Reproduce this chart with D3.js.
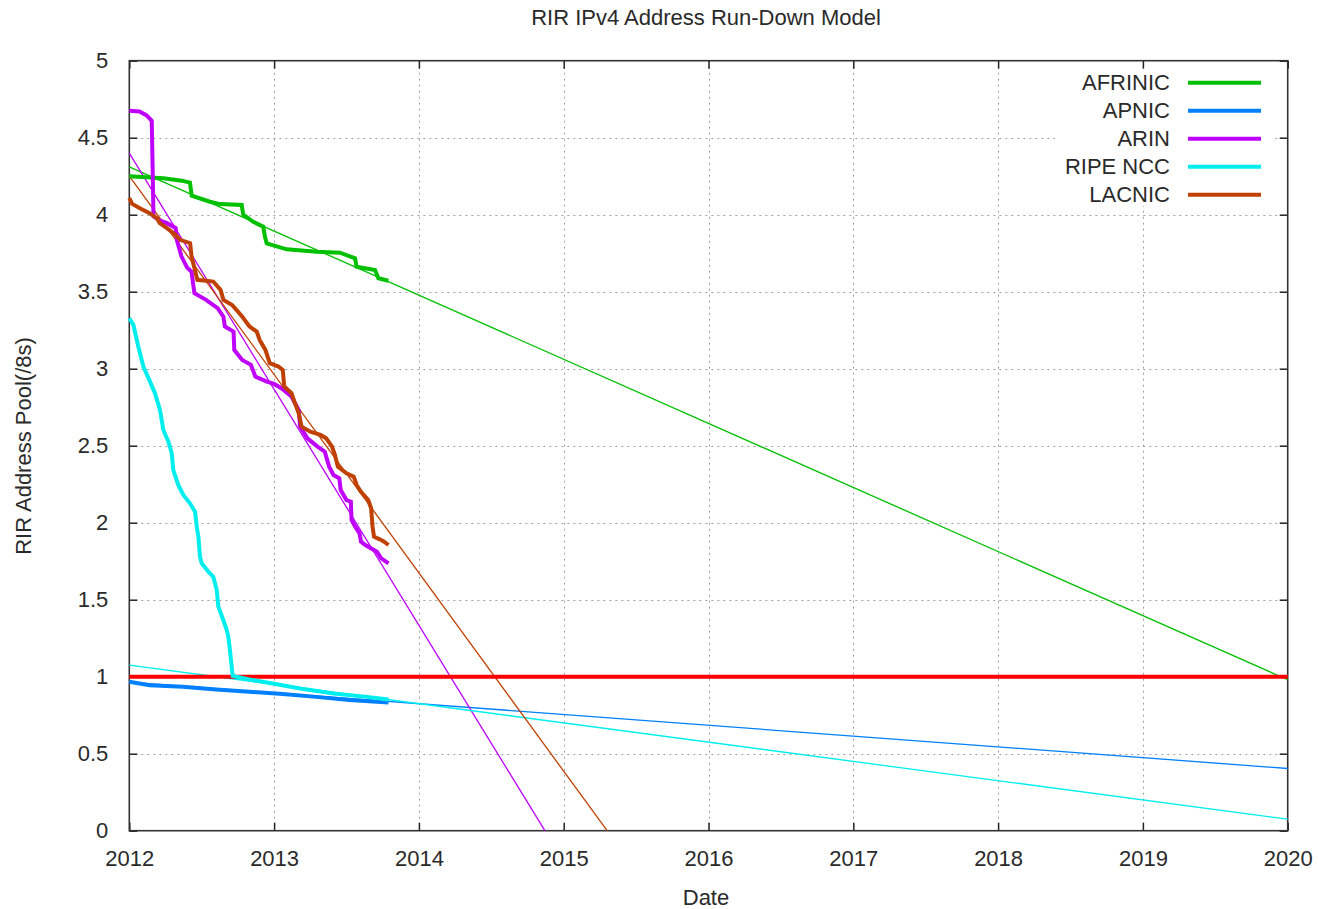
<!DOCTYPE html>
<html>
<head>
<meta charset="utf-8">
<script src="https://cdn.jsdelivr.net/npm/d3@7"></script>
<style>
  html, body { margin: 0; padding: 0; background: #fff; }
  svg { display: block; }
  text { font-family: "Liberation Sans", Arial, sans-serif; fill: #2a2a2a; }
</style>
</head>
<body>
<svg id="chart" width="1318" height="909"></svg>
<script>
// ---- Data (decimal years, pool size in /8s) ----
const seriesNames = ["AFRINIC", "APNIC", "ARIN", "RIPE NCC", "LACNIC"];
const seriesColors = ["#00c000", "#0080ff", "#c000ff", "#00eeee", "#c04000"];

const afrinic = [[2012.00,4.25],[2012.235,4.236],[2012.362,4.221],[2012.419,4.208],[2012.431,4.123],[2012.557,4.084],[2012.626,4.069],[2012.776,4.063],[2012.787,4.0],[2012.856,3.954],[2012.925,3.922],[2012.937,3.857],[2012.949,3.814],[2013.087,3.775],[2013.294,3.760],[2013.455,3.753],[2013.559,3.717],[2013.570,3.662],[2013.697,3.641],[2013.720,3.587],[2013.789,3.571]];

const apnic = [[2012.00,0.967],[2012.14,0.945],[2012.37,0.934],[2012.60,0.917],[2012.83,0.902],[2013.06,0.887],[2013.29,0.869],[2013.52,0.848],[2013.79,0.833]];

const arin = [[2012.00,4.675],[2012.07,4.67],[2012.12,4.645],[2012.155,4.61],[2012.16,4.36],[2012.167,3.99],[2012.20,3.967],[2012.26,3.945],[2012.32,3.913],[2012.33,3.83],[2012.36,3.73],[2012.40,3.655],[2012.43,3.63],[2012.44,3.556],[2012.45,3.49],[2012.53,3.447],[2012.61,3.393],[2012.65,3.338],[2012.66,3.274],[2012.72,3.241],[2012.725,3.122],[2012.78,3.057],[2012.84,3.025],[2012.87,2.949],[2012.95,2.916],[2013.00,2.901],[2013.05,2.873],[2013.12,2.819],[2013.17,2.732],[2013.18,2.624],[2013.23,2.548],[2013.30,2.494],[2013.35,2.461],[2013.38,2.364],[2013.41,2.310],[2013.45,2.288],[2013.46,2.212],[2013.50,2.147],[2013.53,2.136],[2013.535,2.018],[2013.56,1.974],[2013.59,1.931],[2013.60,1.877],[2013.63,1.855],[2013.71,1.812],[2013.74,1.769],[2013.79,1.736]];

const ripe = [[2012.00,3.328],[2012.028,3.285],[2012.062,3.144],[2012.097,3.014],[2012.143,2.916],[2012.177,2.841],[2012.212,2.732],[2012.235,2.602],[2012.27,2.526],[2012.293,2.451],[2012.304,2.342],[2012.338,2.245],[2012.373,2.18],[2012.419,2.126],[2012.454,2.071],[2012.466,1.974],[2012.477,1.909],[2012.488,1.779],[2012.50,1.736],[2012.546,1.682],[2012.58,1.649],[2012.604,1.563],[2012.615,1.454],[2012.649,1.368],[2012.673,1.303],[2012.684,1.259],[2012.695,1.173],[2012.707,1.064],[2012.714,1.005],[2012.83,0.982],[2012.99,0.956],[2013.18,0.924],[2013.41,0.891],[2013.64,0.869],[2013.79,0.852]];

const lacnic = [[2012.00,4.108],[2012.02,4.07],[2012.07,4.043],[2012.14,4.01],[2012.19,3.978],[2012.21,3.945],[2012.26,3.913],[2012.32,3.869],[2012.35,3.837],[2012.42,3.815],[2012.43,3.728],[2012.45,3.653],[2012.47,3.577],[2012.58,3.566],[2012.63,3.512],[2012.65,3.447],[2012.71,3.414],[2012.74,3.382],[2012.78,3.338],[2012.83,3.274],[2012.88,3.241],[2012.90,3.187],[2012.94,3.122],[2012.97,3.036],[2013.03,3.014],[2013.06,2.992],[2013.07,2.884],[2013.12,2.841],[2013.14,2.786],[2013.17,2.711],[2013.19,2.624],[2013.25,2.591],[2013.32,2.57],[2013.36,2.548],[2013.40,2.494],[2013.42,2.44],[2013.44,2.364],[2013.50,2.321],[2013.55,2.299],[2013.57,2.245],[2013.60,2.201],[2013.65,2.147],[2013.67,2.094],[2013.68,1.974],[2013.69,1.909],[2013.73,1.892],[2013.76,1.877],[2013.79,1.855]];

// Linear run-down model fits
const afrinicTrend = [[2012,4.31],[2020,0.98]];
const apnicTrend   = [[2012,0.965],[2020,0.404]];
const arinTrend    = [[2012,4.40],[2014.87,0]];
const ripeTrend    = [[2012,1.075],[2020,0.075]];
const lacnicTrend  = [[2012,4.25],[2015.30,0]];

const thresholdLine = [[2012,1],[2020,1]];

const xTicks = [2012,2013,2014,2015,2016,2017,2018,2019,2020];
const yTicks = [0,0.5,1,1.5,2,2.5,3,3.5,4,4.5,5];

const titleText = "RIR IPv4 Address Run-Down Model";
const xLabel = "Date";
const yLabel = "RIR Address Pool(/8s)";

// ---- Layout ----
const svg = d3.select("#chart");
const L = 129.3, R = 1287.7, T = 60.7, B = 830.7;
const x = d3.scaleLinear().domain([2012, 2020]).range([L, R]);
const y = d3.scaleLinear().domain([0, 5]).range([B, T]);
const FS = 22;

// grid
const grid = svg.append("g").attr("stroke", "#a0a0a0").attr("stroke-width", 1).attr("stroke-dasharray", "2,4");
grid.selectAll("line.gx").data(xTicks.slice(1, -1)).join("line")
  .attr("x1", d => Math.round(x(d)) + 0.5).attr("x2", d => Math.round(x(d)) + 0.5)
  .attr("y1", T).attr("y2", B);
grid.selectAll("line.gy").data(yTicks.slice(1, -1)).join("line")
  .attr("y1", d => Math.round(y(d)) + 0.5).attr("y2", d => Math.round(y(d)) + 0.5)
  .attr("x1", L).attr("x2", R);

// legend background (blanks the grid behind the key)
svg.append("rect").attr("x", 1055).attr("y", 64).attr("width", 218).attr("height", 142).attr("fill", "#fff");

// axes with inward ticks on all sides
const tickLen = 8;
const axB = svg.append("g").attr("transform", `translate(0,${B})`)
  .call(d3.axisBottom(x).tickValues(xTicks).tickFormat(d3.format("d")).tickSizeInner(-tickLen).tickSizeOuter(0).tickPadding(20));
const axT = svg.append("g").attr("transform", `translate(0,${T})`)
  .call(d3.axisTop(x).tickValues(xTicks).tickFormat("").tickSizeInner(-tickLen).tickSizeOuter(0));
const axL = svg.append("g").attr("transform", `translate(${L},0)`)
  .call(d3.axisLeft(y).tickValues(yTicks).tickFormat(d3.format("~g")).tickSizeInner(-tickLen).tickSizeOuter(0).tickPadding(21));
const axR = svg.append("g").attr("transform", `translate(${R},0)`)
  .call(d3.axisRight(y).tickValues(yTicks).tickFormat("").tickSizeInner(-tickLen).tickSizeOuter(0));
[axB, axT, axL, axR].forEach(g => {
  g.select(".domain").remove();
  g.selectAll(".tick line").attr("stroke", "#222").attr("stroke-width", 1.5);
  g.selectAll("text").attr("font-size", FS).attr("font-family", "Liberation Sans, Arial, sans-serif").attr("fill", "#2a2a2a");
});
axB.selectAll("text").attr("dy", "0.71em");

// border
svg.append("rect").attr("x", L).attr("y", T).attr("width", R - L).attr("height", B - T)
  .attr("fill", "none").attr("stroke", "#333").attr("stroke-width", 1.6);

const line = d3.line().x(d => x(d[0])).y(d => y(d[1]));

// trend lines (thin)
const trends = [afrinicTrend, apnicTrend, arinTrend, ripeTrend, lacnicTrend];
svg.append("g").selectAll("path").data(trends).join("path")
  .attr("d", line).attr("fill", "none")
  .attr("stroke", (d, i) => seriesColors[i]).attr("stroke-width", 1.3);

// threshold line at 1 /8
svg.append("path").datum(thresholdLine).attr("d", line)
  .attr("fill", "none").attr("stroke", "#ff0000").attr("stroke-width", 4);

// observed data (thick)
const series = [afrinic, apnic, arin, ripe, lacnic];
svg.append("g").selectAll("path").data(series).join("path")
  .attr("d", line).attr("fill", "none")
  .attr("stroke", (d, i) => seriesColors[i]).attr("stroke-width", 4)
  .attr("stroke-linejoin", "miter").attr("stroke-miterlimit", 2);

// legend
const lg = svg.append("g");
seriesNames.forEach((name, i) => {
  const cy = 82.7 + i * 28;
  lg.append("text").attr("x", 1170).attr("y", cy).attr("dy", "0.33em")
    .attr("text-anchor", "end").attr("font-size", FS).text(name);
  lg.append("line").attr("x1", 1188).attr("x2", 1261).attr("y1", cy).attr("y2", cy)
    .attr("stroke", seriesColors[i]).attr("stroke-width", 4);
});

// titles
svg.append("text").attr("x", 706).attr("y", 25).attr("text-anchor", "middle").attr("font-size", FS).text(titleText);
svg.append("text").attr("x", 706).attr("y", 905).attr("text-anchor", "middle").attr("font-size", FS).text(xLabel);
svg.append("text").attr("transform", "translate(31,446) rotate(-90)").attr("text-anchor", "middle")
  .attr("font-size", FS).text(yLabel);
</script>
</body>
</html>
